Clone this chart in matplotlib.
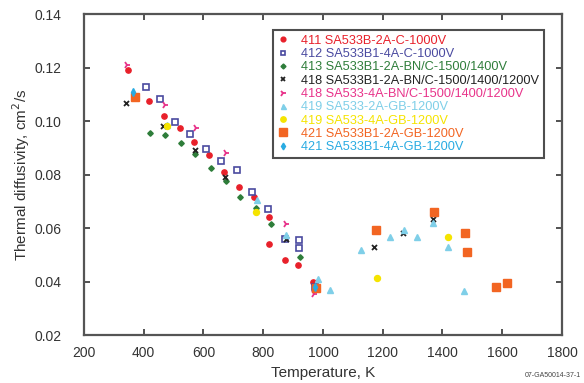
import matplotlib
matplotlib.use("Agg")
import matplotlib.pyplot as plt

plt.rcParams['font.family'] = ['Liberation Sans', 'DejaVu Sans']

# ---- data ----
s411_T = [349, 419, 468, 521, 568, 619, 668, 720, 770, 819, 819, 872, 917, 965]
s411_v = [0.1191, 0.1076, 0.1017, 0.0973, 0.0920, 0.0874, 0.0811, 0.0753, 0.0716, 0.0641, 0.0541, 0.0479, 0.0460, 0.0400]

s412_T = [406, 454, 504, 555, 608, 659, 711, 764, 815, 873, 919, 920, 973]
s412_v = [0.1128, 0.1084, 0.0998, 0.0952, 0.0895, 0.0849, 0.0818, 0.0734, 0.0671, 0.0560, 0.0556, 0.0525, 0.0379]

s413_T = [421, 472, 524, 571, 624, 674, 722, 776, 825, 923]
s413_v = [0.0956, 0.0946, 0.0917, 0.0876, 0.0826, 0.0774, 0.0716, 0.0674, 0.0616, 0.0491]

s418a_T = [342, 463, 571, 671, 876, 1171, 1269, 1367]
s418a_v = [0.1069, 0.0980, 0.0890, 0.0789, 0.0560, 0.0529, 0.0583, 0.0634]

s418b_T = [343, 471, 574, 675, 876, 970]
s418b_v = [0.1210, 0.1060, 0.0973, 0.0880, 0.0616, 0.0354]

s419a_T = [477, 778, 876, 982, 1023, 1126, 1224, 1272, 1316, 1369, 1419, 1473]
s419a_v = [0.0986, 0.0703, 0.0575, 0.0409, 0.0369, 0.0519, 0.0566, 0.0592, 0.0566, 0.0618, 0.0529, 0.0365]

s419b_T = [479, 776, 1180, 1419]
s419b_v = [0.0980, 0.0660, 0.0413, 0.0566]

s421a_T = [372, 976, 1177, 1371, 1475, 1481, 1579, 1617]
s421a_v = [0.1090, 0.0375, 0.0591, 0.0660, 0.0581, 0.0511, 0.0379, 0.0394]

s421b_T = [365, 973]
s421b_v = [0.1107, 0.0380]

labels = ["411 SA533B-2A-C-1000V",
          "412 SA533B1-4A-C-1000V",
          "413 SA533B1-2A-BN/C-1500/1400V",
          "418 SA533B1-2A-BN/C-1500/1400/1200V",
          "418 SA533-4A-BN/C-1500/1400/1200V",
          "419 SA533-2A-GB-1200V",
          "419 SA533-4A-GB-1200V",
          "421 SA533B1-2A-GB-1200V",
          "421 SA533B1-4A-GB-1200V"]

x_ticks = [200, 400, 600, 800, 1000, 1200, 1400, 1600, 1800]
y_ticks = [0.02, 0.04, 0.06, 0.08, 0.10, 0.12, 0.14]

fig = plt.figure(figsize=(5.84, 3.83), dpi=100)
ax = fig.add_axes([0.1438, 0.1253, 0.8185, 0.8381])

series = [
    (s411_T, s411_v, dict(marker='o', color='#e8202a', mfc='#e8202a', ms=3.8)),
    (s412_T, s412_v, dict(marker='s', color='#4a4aa0', mfc='white', ms=3.8, mew=1.2)),
    (s413_T, s413_v, dict(marker='D', color='#2e7d3a', mfc='#2e7d3a', ms=2.8)),
    (s418a_T, s418a_v, dict(marker='x', color='#222222', ms=3.6, mew=1.3)),
    (s418b_T, s418b_v, dict(marker='4', color='#e8338a', ms=5, mew=1.3)),
    (s419a_T, s419a_v, dict(marker='^', color='#7fcfe8', mfc='#7fcfe8', ms=4)),
    (s419b_T, s419b_v, dict(marker='o', color='#f5e400', mfc='#f5e400', ms=4.3)),
    (s421a_T, s421a_v, dict(marker='s', color='#f26522', mfc='#f26522', ms=5.8)),
    (s421b_T, s421b_v, dict(marker='d', color='#29abe2', mfc='#29abe2', ms=3.8)),
]
text_colors = ['#e8202a', '#4a4aa0', '#2e7d3a', '#222222', '#e8338a',
               '#7fcfe8', '#f5e400', '#f26522', '#29abe2']

for (T, v, st), lab in zip(series, labels):
    ax.plot(T, v, linestyle='none', label=lab, **st)

ax.set_xlim(200, 1800)
ax.set_ylim(0.02, 0.14)
ax.set_xticks(x_ticks)
ax.set_yticks(y_ticks)
ax.set_xticklabels([str(t) for t in x_ticks])
ax.set_yticklabels(["%.2f" % t for t in y_ticks])
ax.tick_params(direction='in', length=4, width=1.2, top=True, right=True,
               labelsize=10, colors='#333333')
ax.tick_params(axis='y', pad=16)
ax.tick_params(axis='x', pad=8)
for sp in ax.spines.values():
    sp.set_linewidth(1.6)
    sp.set_color('#555555')

ax.set_xlabel("Temperature, K", fontsize=11, color='#333333', labelpad=4)
ax.set_ylabel("Thermal diffusivity, cm$^2$/s", fontsize=11, color='#333333', labelpad=2)

leg = ax.legend(loc='upper left', bbox_to_anchor=(0.395, 0.95), fontsize=9.2,
                frameon=True, fancybox=False, handlelength=0.8, handletextpad=1.0,
                labelspacing=0.1, borderpad=0.38, markerscale=0.9,
                borderaxespad=0)
leg.get_frame().set_edgecolor('#222222')
leg.get_frame().set_linewidth(1.5)
for t, c in zip(leg.get_texts(), text_colors):
    t.set_color(c)

fig.text(0.995, 0.01, "07-GA50014-37-1", fontsize=5, ha='right', va='bottom', color='#444444')

fig.savefig("out.png", dpi=100)
